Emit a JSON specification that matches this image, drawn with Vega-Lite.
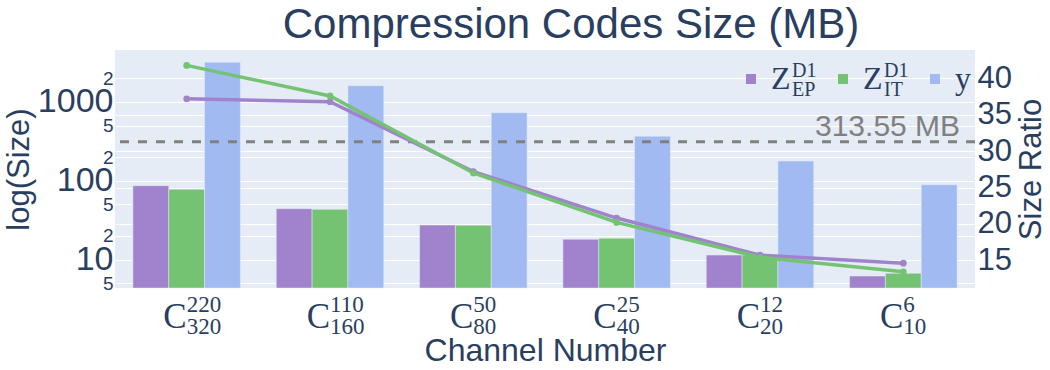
{
  "$schema": "https://vega.github.io/schema/vega-lite/v6.json",
  "width": 860,
  "height": 238,
  "autosize": {"type": "none"},
  "padding": {"left": 115, "top": 50, "right": 75, "bottom": 82},
  "background": "white",
  "config": {
    "view": {"fill": "#E5ECF6", "stroke": null},
    "font": "Liberation Sans",
    "axis": {
      "domain": false,
      "ticks": false,
      "tickSize": 0,
      "gridColor": "white",
      "gridWidth": 1,
      "labelColor": "#2a3f5f",
      "titleColor": "#2a3f5f",
      "labelFont": "Liberation Sans",
      "titleFont": "Liberation Sans",
      "titleFontWeight": "normal",
      "labelOverlap": false
    }
  },
  "title": {
    "text": "Compression Codes Size (MB)",
    "fontSize": 42,
    "font": "Liberation Sans",
    "fontWeight": "normal",
    "color": "#2a3f5f",
    "anchor": "middle",
    "frame": "group",
    "dx": 26,
    "offset": 3
  },
  "data": {
    "values": [
      {"channel": "220|320", "series": "Z_EP", "size": 86.5, "ratio": 37.2},
      {"channel": "220|320", "series": "Z_IT", "size": 77.9, "ratio": 41.8},
      {"channel": "220|320", "series": "y", "size": 3192},
      {"channel": "110|160", "series": "Z_EP", "size": 44.2, "ratio": 36.8},
      {"channel": "110|160", "series": "Z_IT", "size": 43.4, "ratio": 37.6},
      {"channel": "110|160", "series": "y", "size": 1611},
      {"channel": "50|80", "series": "Z_EP", "size": 27.4, "ratio": 27.2},
      {"channel": "50|80", "series": "Z_IT", "size": 27.3, "ratio": 27.0},
      {"channel": "50|80", "series": "y", "size": 731},
      {"channel": "25|40", "series": "Z_EP", "size": 18.1, "ratio": 20.8},
      {"channel": "25|40", "series": "Z_IT", "size": 18.6, "ratio": 20.2},
      {"channel": "25|40", "series": "y", "size": 367},
      {"channel": "12|20", "series": "Z_EP", "size": 11.4, "ratio": 15.7},
      {"channel": "12|20", "series": "Z_IT", "size": 11.4, "ratio": 15.4},
      {"channel": "12|20", "series": "y", "size": 178},
      {"channel": "6|10", "series": "Z_EP", "size": 6.17, "ratio": 14.6},
      {"channel": "6|10", "series": "Z_IT", "size": 6.68, "ratio": 13.4},
      {"channel": "6|10", "series": "y", "size": 89.1}
    ]
  },
  "layer": [
    {
      "layer": [
        {
          "mark": {"type": "bar", "stroke": "#E5ECF6", "strokeWidth": 0.5},
          "encoding": {
            "x": {
              "field": "channel",
              "type": "nominal",
              "scale": {"domain": ["220|320", "110|160", "50|80", "25|40", "12|20", "6|10"], "paddingInner": 0.25, "paddingOuter": 0.125},
              "axis": {
                "labelExpr": "'C'",
                "labelAngle": 0,
                "labelFont": "Liberation Serif",
                "labelFontSize": 35,
                "labelAlign": "right",
                "labelBaseline": "top",
                "labelPadding": 11,
                "grid": false,
                "title": "Channel Number",
                "titleFontSize": 32,
                "titlePadding": 1,
                "encode": {"labels": {"update": {"dx": {"signal": "length(split(datum.value, '|')[1]) > 2 ? -4 : 1"}}}}
              }
            },
            "xOffset": {
              "field": "series",
              "type": "nominal",
              "scale": {"domain": ["Z_EP", "Z_IT", "y"], "paddingInner": 0, "paddingOuter": 0}
            },
            "y": {
              "field": "size",
              "type": "quantitative",
              "scale": {"type": "log", "domain": [4.35, 4571], "nice": false},
              "axis": {
                "values": [5, 10, 20, 50, 100, 200, 500, 1000, 2000],
                "labelExpr": "datum.value == 10 || datum.value == 100 || datum.value == 1000 ? toString(datum.value) : substring(toString(datum.value), 0, 1)",
                "labelFontSize": {"condition": {"test": "datum.value == 10 || datum.value == 100 || datum.value == 1000", "value": 34}, "value": 19},
                "labelPadding": 2,
                "grid": true,
                "title": "log(Size)",
                "titleFontSize": 31,
                "titlePadding": 2
              }
            },
            "y2": {"datum": 4.35},
            "fill": {
              "field": "series",
              "type": "nominal",
              "scale": {"domain": ["Z_EP", "Z_IT", "y"], "range": ["#A083CC", "#73C373", "#A1BAF2"]},
              "legend": {
                "orient": "none",
                "legendX": 620,
                "legendY": 13,
                "direction": "horizontal",
                "title": null,
                "padding": 0,
                "symbolType": "square",
                "symbolSize": 100,
                "symbolStrokeWidth": 0,
                "labelExpr": "datum.value == 'y' ? 'y' : 'Z'",
                "labelFont": "Liberation Serif",
                "labelFontSize": 32,
                "labelColor": "#2a3f5f",
                "labelOffset": 4,
                "columnPadding": 36
              }
            }
          }
        },
        {
          "data": {"values": [{"channel": "6|10", "threshold": 313.55, "label": "313.55 MB"}]},
          "mark": {"type": "rule", "strokeDash": [9, 9], "strokeWidth": 3, "color": "#808080"},
          "encoding": {
            "y": {"field": "threshold", "type": "quantitative", "title": "log(Size)"}
          }
        },
        {
          "data": {"values": [{"channel": "6|10", "threshold": 313.55, "label": "313.55 MB"}]},
          "mark": {"type": "text", "align": "right", "baseline": "alphabetic", "dx": 3, "dy": -6, "fontSize": 30, "color": "#808080", "font": "Liberation Sans"},
          "encoding": {
            "x": {"field": "channel", "type": "nominal", "bandPosition": 1, "title": "Channel Number"},
            "y": {"field": "threshold", "type": "quantitative", "title": "log(Size)"},
            "text": {"field": "label"}
          }
        }
      ]
    },
    {
      "transform": [{"filter": "datum.ratio != null"}],
      "mark": {"type": "line", "strokeWidth": 3.5, "point": {"filled": true, "size": 45}},
      "encoding": {
        "x": {
          "field": "channel",
          "type": "nominal",
          "scale": {"domain": ["220|320", "110|160", "50|80", "25|40", "12|20", "6|10"], "paddingInner": 0.25, "paddingOuter": 0.125},
          "axis": {
            "orient": "bottom",
            "labelExpr": "split(datum.value, '|')",
            "labelAngle": 0,
            "labelFont": "Liberation Serif",
            "labelFontSize": 23,
            "labelLineHeight": 22,
            "labelAlign": "left",
            "labelBaseline": "top",
            "labelPadding": 5,
            "grid": false,
            "title": null,
            "encode": {"labels": {"update": {"dx": {"signal": "length(split(datum.value, '|')[1]) > 2 ? -4 : 1"}}}}
          }
        },
        "y": {
          "field": "ratio",
          "type": "quantitative",
          "scale": {"domain": [11.18, 43.92], "nice": false, "zero": false},
          "axis": {
            "orient": "right",
            "values": [15, 20, 25, 30, 35, 40],
            "labelFontSize": 31,
            "labelPadding": 2,
            "grid": true,
            "title": "Size Ratio",
            "titleFontSize": 31,
            "titleAngle": 270,
            "titleBaseline": "top",
            "titlePadding": 5
          }
        },
        "color": {
          "field": "series",
          "type": "nominal",
          "scale": {"domain": ["Z_EP", "Z_IT"], "range": ["#A083CC", "#73C373"]},
          "legend": {
            "orient": "none",
            "legendX": 620,
            "legendY": 11,
            "direction": "horizontal",
            "title": null,
            "padding": 0,
            "symbolType": "square",
            "symbolSize": 100,
            "symbolOpacity": 0,
            "symbolStrokeWidth": 0,
            "symbolFillColor": "transparent",
            "labelExpr": "datum.value == 'Z_EP' ? ['D1', 'EP'] : ['D1', 'IT']",
            "labelFont": "Liberation Serif",
            "labelFontSize": 20,
            "labelColor": "#2a3f5f",
            "labelOffset": 37,
            "columnPadding": 10,
            "encode": {"labels": {"update": {"lineHeight": {"value": 18.5}}}}
          }
        }
      }
    }
  ],
  "resolve": {"scale": {"y": "independent"}, "axis": {"x": "independent"}}
}
